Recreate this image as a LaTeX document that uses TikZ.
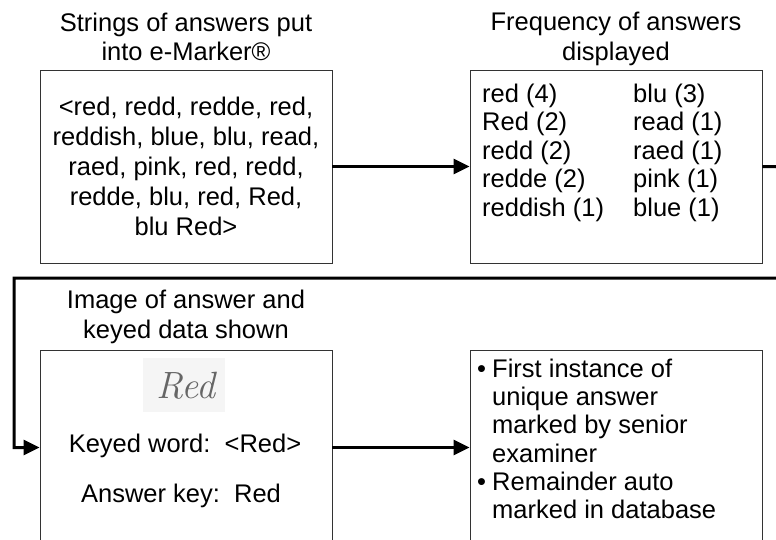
\documentclass[tikz,border=0pt]{standalone}
\usepackage{fontspec}
\setmainfont{Liberation Sans}
\newfontfamily\handfont{Latin Modern Roman}
\usetikzlibrary{arrows.meta}
\begin{document}
\begin{tikzpicture}[x=1pt,y=-1pt,
  box/.style={draw=black!80,line width=0.9pt,minimum width=292pt,inner sep=0pt},
  txt/.style={font=\fontsize{25.5}{30}\selectfont,inner sep=0pt},
  ctr/.style={txt,anchor=base},
  lft/.style={txt,anchor=base west},
  flow/.style={line width=3pt,-{Triangle[length=16pt,width=15pt]}}]
\useasboundingbox (0,0) rectangle (776,539);
\clip (0,0) rectangle (776,539);

% boxes
\node[box,minimum height=193pt] (b1) at (186,166.5) {};
\node[box,minimum height=193pt] (b2) at (616,166.5) {};
\node[box,minimum height=195pt] (b3) at (186,447.5) {};
\node[box,minimum height=195pt] (b4) at (616,447.5) {};

% titles
\node[ctr] (t1a) at (186,31.5) {Strings of answers put};
\node[ctr] (t1b) at (186,60.5) {into e-Marker®};
\node[ctr] (t2a) at (616,30.5) {Frequency of answers};
\node[ctr] (t2b) at (616,60) {displayed};
\node[ctr] (t3a) at (186,308) {Image of answer and};
\node[ctr] (t3b) at (186,338) {keyed data shown};

% box 1 contents
\node[ctr] (s1) at (186,115) {<red, redd, redde, red,};
\node[ctr] (s2) at (186,145) {reddish, blue, blu, read,};
\node[ctr] (s3) at (186,175) {raed, pink, red, redd,};
\node[ctr] (s4) at (186,205) {redde, blu, red, Red,};
\node[ctr] (s5) at (186,235) {blu Red>};

% box 2 contents
\node[lft] (c1a) at (482,102) {red (4)};
\node[lft] (c1b) at (482,130.5) {Red (2)};
\node[lft] (c1c) at (482,159) {redd (2)};
\node[lft] (c1d) at (482,187.5) {redde (2)};
\node[lft] (c1e) at (482,216.5) {reddish (1)};
\node[lft] (c2a) at (633,102) {blu (3)};
\node[lft] (c2b) at (633,130.5) {read (1)};
\node[lft] (c2c) at (633,159) {raed (1)};
\node[lft] (c2d) at (633,187.5) {pink (1)};
\node[lft] (c2e) at (633,216.5) {blue (1)};

% box 3 contents: scanned handwriting and keyed data
\node[fill=black!4,minimum width=82pt,minimum height=54pt,inner sep=0pt] (img) at (184,385) {};
\node[anchor=base,inner sep=0pt,text=black!60,font=\fontsize{38}{38}\selectfont\handfont\itshape] (hw) at (186,398) {Red};
\node[ctr] (kw) at (185,452) {Keyed word:\ \ <Red>};
\node[ctr] (ak) at (181,502) {Answer key:\ \ Red};

% box 4 contents
\node[lft] (p1) at (477,377) {•};
\node[lft] (l1a) at (492,377) {First instance of};
\node[lft] (l1b) at (492,405) {unique answer};
\node[lft] (l1c) at (492,433.5) {marked by senior};
\node[lft] (l1d) at (492,462) {examiner};
\node[lft] (p2) at (477,490) {•};
\node[lft] (l2a) at (492,490) {Remainder auto};
\node[lft] (l2b) at (492,518) {marked in database};

% connectors
\coordinate (r1) at (790,167);
\coordinate (r2) at (790,278);
\coordinate (lc) at (14,278);
\draw[flow] (b1.east) -- (b2.west);
\draw[flow] (b2.east) -- (r1) -- (r2) -- (lc) |- (b3.west);
\draw[flow] (b3.east) -- (b4.west);
\end{tikzpicture}
\end{document}
